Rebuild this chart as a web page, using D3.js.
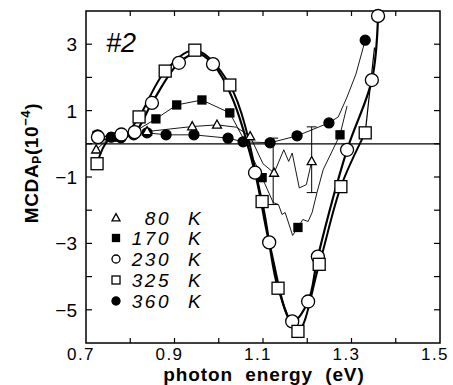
<!DOCTYPE html>
<html>
<head>
<meta charset="utf-8">
<script src="https://cdn.jsdelivr.net/npm/d3@7"></script>
<style>
  html, body { margin: 0; padding: 0; background: #fff; }
  svg { display: block; font-family: "Liberation Sans", Arial, sans-serif; }
</style>
</head>
<body>
<svg id="chart" width="453" height="385"></svg>
<script>
// Photon energy (eV) and MCDA_P (1e-4) for each temperature.
// *_M flags which vertices carry a marker (0 = line vertex only).
const E_80K = [0.723, 0.75, 0.78, 0.81, 0.838, 0.94, 0.996, 1.04, 1.071, 1.10, 1.125, 1.147, 1.158, 1.166, 1.182, 1.198, 1.21];
const V_80K = [-0.18, 0.15, 0.12, 0.30, 0.37, 0.52, 0.57, 0.50, 0.22, -0.60, -0.88, -0.18, -0.53, -0.28, -1.33, -1.23, -0.53];
const M_80K = [1, 0, 0, 0, 1, 1, 1, 0, 1, 0, 1, 0, 0, 0, 0, 0, 1];

const E_170K = [0.725, 0.76, 0.79, 0.82, 0.858, 0.905, 0.962, 1.025, 1.06, 1.098, 1.123, 1.135, 1.143, 1.150, 1.167, 1.179, 1.190, 1.202, 1.211, 1.222, 1.236, 1.274, 1.29];
const V_170K = [0.25, 0.20, 0.30, 0.45, 0.75, 1.17, 1.32, 0.93, 0.05, -1.02, -1.77, -1.83, -2.13, -2.07, -2.76, -2.52, -2.28, -2.34, -2.07, -1.47, -0.78, 0.27, 1.14];
const M_170K = [1, 1, 0, 0, 1, 1, 1, 1, 0, 1, 0, 0, 0, 0, 0, 1, 0, 0, 0, 0, 0, 1, 0];

const E_230K = [0.727, 0.755, 0.78, 0.81, 0.849, 0.91, 0.952, 0.987, 1.03, 1.082, 1.114, 1.166, 1.202, 1.224, 1.29, 1.346, 1.36];
const V_230K = [0.20, 0.12, 0.28, 0.35, 1.23, 2.44, 2.72, 2.40, 1.40, -0.87, -2.97, -5.35, -4.75, -3.40, -0.18, 1.92, 3.85];
const M_230K = [1, 0, 1, 1, 1, 1, 0, 1, 0, 1, 1, 1, 1, 1, 1, 1, 1];

const E_325K = [0.725, 0.75, 0.785, 0.82, 0.879, 0.946, 1.025, 1.098, 1.134, 1.179, 1.227, 1.276, 1.331];
const V_325K = [-0.60, 0.10, 0.22, 0.81, 2.19, 2.82, 1.77, -1.74, -4.35, -5.65, -3.63, -1.29, 0.33];
const M_325K = [1, 0, 0, 1, 1, 1, 1, 1, 1, 1, 1, 1, 1];
// thin continuation of the 325 K trace above its last marker
const E_325K_TAIL = [1.331, 1.352];
const V_325K_TAIL = [0.33, 2.90];

const E_360K = [0.726, 0.757, 0.779, 0.808, 0.838, 0.881, 0.944, 1.021, 1.055, 1.116, 1.177, 1.249, 1.27, 1.29, 1.31, 1.331];
const V_360K = [0.27, 0.20, 0.18, 0.27, 0.33, 0.27, 0.27, 0.17, 0.06, 0.03, 0.24, 0.63, 0.81, 1.41, 2.10, 3.12];
const M_360K = [1, 1, 1, 1, 1, 1, 1, 1, 1, 1, 1, 1, 0, 0, 0, 1];

// Error bars on the 80 K trace
const ERR_E  = [1.123, 1.21];
const ERR_LO = [-1.83, -1.47];
const ERR_HI = [0.17, 0.51];

const LEGEND_LABELS = ["80", "170", "230", "325", "360"];
const X_TICKS = [0.7, 0.9, 1.1, 1.3, 1.5];
const Y_TICKS = [3, 1, -1, -3, -5];

const series = [
  { E: E_80K,  V: V_80K,  M: M_80K,  shape: "triangle", fill: false, width: 0.9, smooth: false },
  { E: E_170K, V: V_170K, M: M_170K, shape: "square",   fill: true,  width: 0.9, smooth: false },
  { E: E_230K, V: V_230K, M: M_230K, shape: "circle",   fill: false, width: 2.2, smooth: true },
  { E: E_325K, V: V_325K, M: M_325K, shape: "square",   fill: false, width: 2.0, smooth: true },
  { E: E_360K, V: V_360K, M: M_360K, shape: "circle",   fill: true,  width: 0.9, smooth: false }
];

const svg = d3.select("#chart");
const pLeft = 86, pRight = 440, pTop = 11, pBottom = 343;

const x = d3.scaleLinear().domain([0.7, 1.5]).range([pLeft, pRight]);
const y = d3.scaleLinear().domain([-6, 4]).range([pBottom, pTop]);

// Frame
svg.append("rect").attr("x", pLeft).attr("y", pTop)
  .attr("width", pRight - pLeft).attr("height", pBottom - pTop)
  .attr("fill", "none").attr("stroke", "#000").attr("stroke-width", 1.5);

// Inward ticks on all four sides
const xMinor = d3.range(0.8, 1.45, 0.1);
const yMinor = d3.range(-5, 4, 1);
const tk = svg.append("g").attr("stroke", "#000").attr("stroke-width", 1.2);
xMinor.forEach(v => {
  tk.append("line").attr("x1", x(v)).attr("x2", x(v)).attr("y1", pBottom).attr("y2", pBottom - 5);
  tk.append("line").attr("x1", x(v)).attr("x2", x(v)).attr("y1", pTop).attr("y2", pTop + 5);
});
yMinor.forEach(v => {
  tk.append("line").attr("x1", pLeft).attr("x2", pLeft + 6).attr("y1", y(v)).attr("y2", y(v));
  tk.append("line").attr("x1", pRight).attr("x2", pRight - 6).attr("y1", y(v)).attr("y2", y(v));
});

// Tick labels
svg.append("g").selectAll("text").data(X_TICKS).join("text")
  .attr("x", d => x(d) - 5).attr("y", 360)
  .attr("text-anchor", "middle").attr("font-size", 17).attr("letter-spacing", 1.5)
  .text(d => d3.format(".1f")(d));

svg.append("g").selectAll("text").data(Y_TICKS).join("text")
  .attr("x", 77).attr("y", d => y(d) + 7)
  .attr("text-anchor", "end").attr("font-size", 19)
  .text(d => d < 0 ? "\u2212" + Math.abs(d) : d);

// Axis titles
svg.append("text").attr("x", 264).attr("y", 381)
  .attr("text-anchor", "middle").attr("font-size", 19).attr("font-weight", "bold")
  .attr("letter-spacing", 0.9).attr("word-spacing", 6)
  .text("photon energy (eV)");

const yt = svg.append("text")
  .attr("transform", "translate(38,163) rotate(-90)")
  .attr("text-anchor", "middle").attr("font-size", 19).attr("font-weight", "bold")
  .attr("letter-spacing", 0.6);
yt.append("tspan").text("MCDA");
yt.append("tspan").attr("font-size", 12).attr("dy", 3).text("P");
yt.append("tspan").attr("dy", -3).text("(10");
yt.append("tspan").attr("font-size", 13).attr("dy", -8).text("\u22124");
yt.append("tspan").attr("dy", 8).text(")");

// Zero line
svg.append("line").attr("x1", pLeft).attr("x2", pRight)
  .attr("y1", y(0)).attr("y2", y(0)).attr("stroke", "#000").attr("stroke-width", 1.3);

const plot = svg.append("g");

// Lines
series.forEach(s => {
  const pts = s.E.map((e, i) => [e, s.V[i]]);
  const line = d3.line().x(d => x(d[0])).y(d => y(d[1]))
    .curve(s.smooth ? d3.curveCatmullRom.alpha(0.5) : d3.curveLinear);
  plot.append("path").attr("d", line(pts))
    .attr("fill", "none").attr("stroke", "#000")
    .attr("stroke-width", s.width).attr("stroke-linejoin", "round");
});
plot.append("path")
  .attr("d", d3.line().x(d => x(d[0])).y(d => y(d[1]))(E_325K_TAIL.map((e, i) => [e, V_325K_TAIL[i]])))
  .attr("fill", "none").attr("stroke", "#000").attr("stroke-width", 1.2);

// Error bars
ERR_E.forEach((e, i) => {
  const g = plot.append("g").attr("stroke", "#000").attr("stroke-width", 1);
  g.append("line").attr("x1", x(e)).attr("x2", x(e)).attr("y1", y(ERR_LO[i])).attr("y2", y(ERR_HI[i]));
  g.append("line").attr("x1", x(e) - 5).attr("x2", x(e) + 5).attr("y1", y(ERR_LO[i])).attr("y2", y(ERR_LO[i]));
  g.append("line").attr("x1", x(e) - 5).attr("x2", x(e) + 5).attr("y1", y(ERR_HI[i])).attr("y2", y(ERR_HI[i]));
});

// Marker drawing
function marker(g, shape, fill, cx, cy, size) {
  let el;
  if (shape === "circle") {
    el = g.append("circle").attr("cx", cx).attr("cy", cy).attr("r", size / 2);
  } else if (shape === "square") {
    el = g.append("rect").attr("x", cx - size / 2).attr("y", cy - size / 2)
      .attr("width", size).attr("height", size);
  } else {
    const h = size * 0.9;
    el = g.append("path").attr("d",
      `M${cx},${cy - h * 0.6}L${cx + size / 2},${cy + h * 0.4}L${cx - size / 2},${cy + h * 0.4}Z`);
  }
  el.attr("fill", fill ? "#000" : "#fff").attr("stroke", "#000").attr("stroke-width", 1.3);
}

const sizes = [9, 8, 13, 12, 10];
const order = [4, 1, 0, 2, 3];
order.forEach(k => {
  const s = series[k];
  s.E.forEach((e, i) => {
    if (s.M[i]) marker(plot, s.shape, s.fill, x(e), y(s.V[i]), sizes[k]);
  });
});

// Sample label
svg.append("text").attr("x", 106).attr("y", 52)
  .attr("font-size", 27).attr("font-style", "italic").text("#2");

// Legend
const legY = [218, 238, 259, 280, 301];
const legSizes = [8, 7, 8, 8, 8];
LEGEND_LABELS.forEach((lab, i) => {
  const s = series[i];
  marker(svg, s.shape, s.fill, 116, legY[i], legSizes[i]);
  svg.append("text").attr("x", 171).attr("y", legY[i] + 7)
    .attr("text-anchor", "end").attr("font-size", 19).attr("font-style", "italic")
    .attr("letter-spacing", 2.5).text(lab);
  svg.append("text").attr("x", 188).attr("y", legY[i] + 7)
    .attr("font-size", 19).attr("font-style", "italic").text("K");
});
</script>
</body>
</html>
